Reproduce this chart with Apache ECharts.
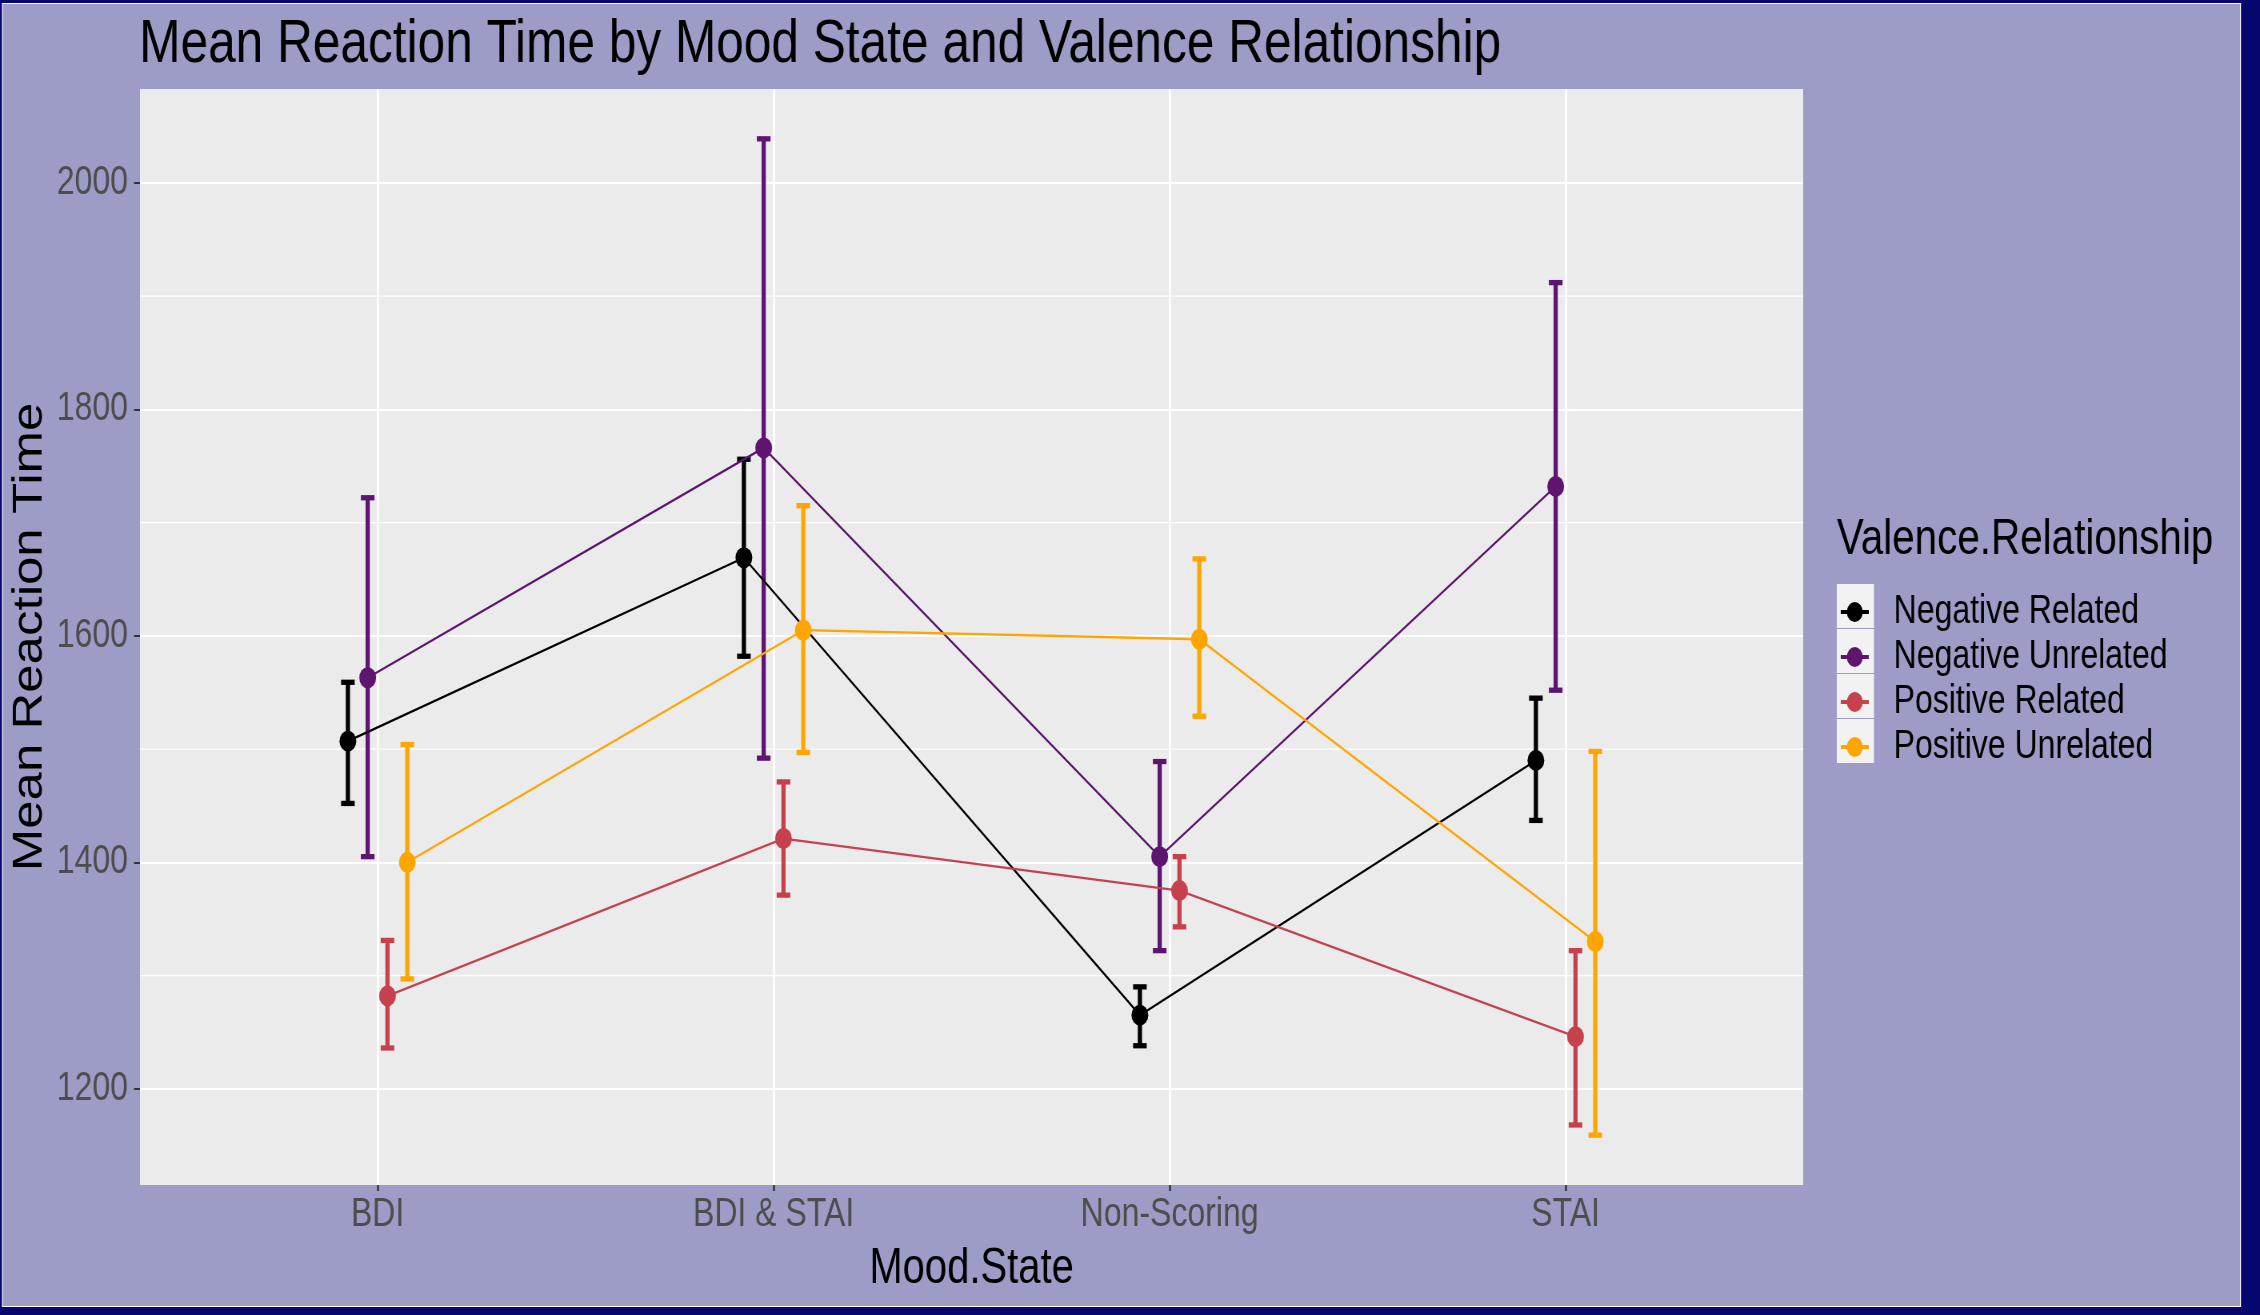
<!DOCTYPE html>
<html><head><meta charset="utf-8">
<script src="https://cdn.jsdelivr.net/npm/echarts@6/dist/echarts.min.js"></script>
<style>
html,body{margin:0;padding:0;background:#06066e;overflow:hidden;width:2260px;height:1315px;}
#c{position:absolute;left:0;top:0;width:2825px;height:1315px;transform:scaleX(0.8);transform-origin:0 0;}
</style>
</head><body><div id="c"></div>
<script>
const categories = ['BDI', 'BDI & STAI', 'Non-Scoring', 'STAI'];
const groups = ['Negative Related', 'Negative Unrelated', 'Positive Related', 'Positive Unrelated'];
const groupColors = ['#000000', '#5E1570', '#C7404E', '#FFA500'];

const negRelMean = [1507, 1669, 1265, 1490];
const negRelLow  = [1452, 1582, 1238, 1437];
const negRelHigh = [1559, 1756, 1290, 1545];

const negUnrMean = [1563, 1766, 1405, 1732];
const negUnrLow  = [1405, 1492, 1322, 1552];
const negUnrHigh = [1722, 2039, 1489, 1912];

const posRelMean = [1282, 1421, 1375, 1246];
const posRelLow  = [1236, 1371, 1343, 1168];
const posRelHigh = [1331, 1471, 1405, 1322];

const posUnrMean = [1400, 1605, 1597, 1330];
const posUnrLow  = [1297, 1497, 1529, 1159];
const posUnrHigh = [1504, 1715, 1668, 1498];

const yTicks = [1200, 1400, 1600, 1800, 2000];
const yMinor = [1300, 1500, 1700, 1900];

const means = [negRelMean, negUnrMean, posRelMean, posUnrMean];
const lows = [negRelLow, negUnrLow, posRelLow, posUnrLow];
const highs = [negRelHigh, negUnrHigh, posRelHigh, posUnrHigh];

const FONT = "'Liberation Sans', Arial, Helvetica, sans-serif";
const KEY_ICON = 'path://M0,8 L35,8 L35,12 L0,12 Z M7.5,10 A10,10 0 1,1 27.5,10 A10,10 0 1,1 7.5,10 Z';
const dodgeWidth = 0.2;

const chart = echarts.init(document.getElementById('c'), null, {renderer: 'canvas', width: 2825, height: 1315});

const series = [];
// minor grid lines
series.push({
  type: 'custom',
  silent: true,
  z: 0,
  data: yMinor.map(v => [1, v]),
  encode: {x: 0, y: 1},
  renderItem: function (params, api) {
    const cs = params.coordSys;
    const y = api.coord([1, api.value(1)])[1];
    return {type: 'line', shape: {x1: cs.x, y1: y, x2: cs.x + cs.width, y2: y},
      style: {stroke: '#ffffff', lineWidth: 1.2}};
  }
});

groups.forEach((g, i) => {
  const off = (i - 1.5) * dodgeWidth / 4;
  series.push({
    name: g + ' err',
    type: 'custom',
    z: 3,
    silent: true,
    data: categories.map((c, k) => [k + 1 + off, lows[i][k], highs[i][k]]),
    encode: {x: 0, y: [1, 2]},
    renderItem: function (params, api) {
      const x = api.value(0);
      const lo = api.coord([x, api.value(1)]);
      const hi = api.coord([x, api.value(2)]);
      const hw = 8.5;
      const st = {stroke: groupColors[i], lineWidth: 5.3};
      return {type: 'group', children: [
        {type: 'line', shape: {x1: lo[0], y1: lo[1], x2: hi[0], y2: hi[1]}, style: st},
        {type: 'line', shape: {x1: lo[0] - hw, y1: lo[1], x2: lo[0] + hw, y2: lo[1]}, style: st},
        {type: 'line', shape: {x1: hi[0] - hw, y1: hi[1], x2: hi[0] + hw, y2: hi[1]}, style: st}
      ]};
    }
  });
});

groups.forEach((g, i) => {
  const off = (i - 1.5) * dodgeWidth / 4;
  series.push({
    name: g,
    type: 'line',
    z: 4,
    data: categories.map((c, k) => [k + 1 + off, means[i][k]]),
    symbol: 'circle',
    symbolSize: 21,
    showAllSymbol: true,
    itemStyle: {color: groupColors[i]},
    lineStyle: {color: groupColors[i], width: 2.3},
    emphasis: {disabled: true},
    animation: false
  });
});

const option = {
  backgroundColor: '#06066e',
  animation: false,
  graphic: [
    {type: 'rect', z: -10, silent: true, shape: {x: 3.1, y: 3.5, width: 2797.5, height: 1303},
      style: {fill: '#9D9CC6', stroke: '#ffffff', lineWidth: 1.2}},
    {type: 'group', silent: true, children: [0, 1, 2, 3].map(k => ({
      type: 'rect', shape: {x: 2296, y: 584 + 45 * k, width: 46.5, height: 44},
      style: {fill: '#F2F2F2'}
    }))}
  ],
  title: [
    {text: 'Mean Reaction Time by Mood State and Valence Relationship', left: 174, top: 14, padding: 0,
      textStyle: {fontFamily: FONT, fontSize: 62, fontWeight: 'normal', color: '#000'}},
    {text: 'Valence.Relationship', left: 2296, top: 515, padding: 0,
      textStyle: {fontFamily: FONT, fontSize: 50.5, fontWeight: 'normal', color: '#000'}}
  ],
  legend: {
    orient: 'vertical', left: 2301, top: 592, padding: 0,
    itemWidth: 35, itemHeight: 20, itemGap: 5,
    data: groups.map((g, i) => ({name: g, icon: KEY_ICON, itemStyle: {color: groupColors[i]}})),
    textStyle: {fontFamily: FONT, fontSize: 40, color: '#000', padding: [0, 0, 0, 26]},
    selectedMode: false
  },
  grid: {left: 175, top: 89, width: 2079, height: 1096, show: true, backgroundColor: '#EBEBEB',
    borderWidth: 0, containLabel: false, outerBoundsMode: 'none'},
  xAxis: {
    type: 'value', min: 0.4, max: 4.6,
    name: 'Mood.State', nameLocation: 'middle', nameGap: 59, nameMoveOverlap: false,
    nameTextStyle: {fontFamily: FONT, fontSize: 50, color: '#000'},
    axisLine: {show: false},
    axisTick: {show: true, length: 6, lineStyle: {color: '#333333', width: 2.5}, customValues: [1, 2, 3, 4]},
    axisLabel: {customValues: [1, 2, 3, 4], formatter: v => categories[Math.round(v) - 1] || '',
      fontFamily: FONT, fontSize: 40, color: '#4D4D4D', margin: 10},
    splitLine: {show: true, lineStyle: {color: '#ffffff', width: 2.8}}
  },
  yAxis: {
    type: 'value', min: 1115, max: 2083,
    name: 'Mean Reaction Time', nameLocation: 'middle', nameGap: 112, nameRotate: 90, nameMoveOverlap: false,
    nameTextStyle: {fontFamily: FONT, fontSize: 51, color: '#000'},
    axisLine: {show: false},
    axisTick: {show: true, length: 7.5, lineStyle: {color: '#333333', width: 2}, customValues: yTicks},
    axisLabel: {customValues: yTicks, formatter: v => String(v), fontFamily: FONT, fontSize: 40,
      color: '#4D4D4D', margin: 15},
    splitLine: {show: true, lineStyle: {color: '#ffffff', width: 2.2}}
  },
  series: series
};
chart.setOption(option);
</script></body></html>
